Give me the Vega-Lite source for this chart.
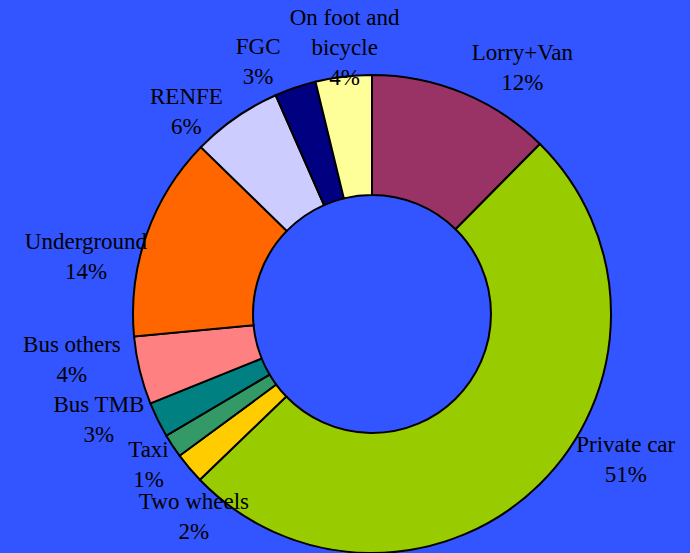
{
  "$schema": "https://vega.github.io/schema/vega-lite/v6.json",
  "width": 600,
  "height": 478,
  "autosize": "none",
  "padding": {"left": 72, "top": 75, "right": 18, "bottom": 0},
  "background": "#3355FF",
  "view": {"stroke": null},
  "data": {
    "values": [
      {"idx": 1, "cat": "Lorry+Van", "share": 12.4, "label": "Lorry+Van|12%"},
      {"idx": 2, "cat": "Private car", "share": 50.4, "label": "Private car|51%"},
      {"idx": 3, "cat": "Two wheels", "share": 2.1, "label": "Two wheels|2%"},
      {"idx": 4, "cat": "Taxi", "share": 1.6, "label": "Taxi|1%"},
      {"idx": 5, "cat": "Bus TMB", "share": 2.4, "label": "Bus TMB|3%"},
      {"idx": 6, "cat": "Bus others", "share": 4.6, "label": "Bus others|4%"},
      {"idx": 7, "cat": "Underground", "share": 13.8, "label": "Underground|14%"},
      {"idx": 8, "cat": "RENFE", "share": 6.1, "label": "RENFE|6%"},
      {"idx": 9, "cat": "FGC", "share": 2.8, "label": "FGC|3%"},
      {"idx": 10, "cat": "On foot and bicycle", "share": 3.8, "label": "On foot and|bicycle|4%"}
    ]
  },
  "encoding": {
    "theta": {"field": "share", "type": "quantitative", "stack": true},
    "order": {"field": "idx", "type": "quantitative", "sort": "ascending"}
  },
  "layer": [
    {
      "mark": {"type": "arc", "innerRadius": 119, "outerRadius": 239, "stroke": "black", "strokeWidth": 2},
      "encoding": {
        "color": {
          "field": "cat",
          "type": "nominal",
          "legend": null,
          "scale": {
            "domain": ["Lorry+Van", "Private car", "Two wheels", "Taxi", "Bus TMB", "Bus others", "Underground", "RENFE", "FGC", "On foot and bicycle"],
            "range": ["#993366", "#99CC00", "#FFCC00", "#339966", "#008080", "#FF8080", "#FF6600", "#CCCCFF", "#000080", "#FFFF99"]
          }
        }
      }
    },
    {
      "mark": {
        "type": "text",
        "radius": 280,
        "font": "Liberation Serif",
        "fontSize": 23,
        "lineHeight": 30,
        "lineBreak": "|",
        "color": "black",
        "align": "center",
        "baseline": "middle",
        "dx": {"expr": "[44,57,36,10,-22,-28,-22,-26,-24,6][datum.idx-1]"},
        "dy": {"expr": "[-2,-68,7,-18,-33,-35,21,13,-2,-18][datum.idx-1]"}
      },
      "encoding": {
        "text": {"field": "label", "type": "nominal"}
      }
    }
  ]
}
